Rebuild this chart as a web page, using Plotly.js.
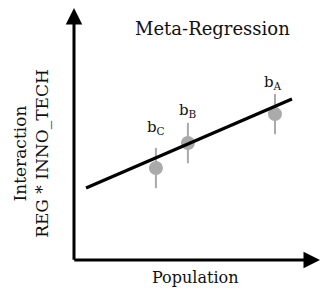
<!DOCTYPE html>
<html>
<head>
<meta charset="utf-8">
<script src="https://cdn.plot.ly/plotly-3.0.1.min.js"></script>
<style>html,body{margin:0;padding:0;background:#fff;}#chart{width:321px;height:291px;}</style>
</head>
<body>
<div id="chart"></div>
<script>
// Study estimates
var studyLabels = ["b<sub>C</sub>", "b<sub>B</sub>", "b<sub>A</sub>"];
var population = [3.33, 4.63, 8.17];
var interaction = [3.65, 4.64, 5.79];
var errHalf = [0.8, 0.8, 0.8];
// Meta-regression line endpoints
var lineX = [0.49, 8.86];
var lineY = [2.86, 6.39];

var font = "DejaVu Serif, Liberation Serif, serif";

var traces = [
  {
    x: population, y: interaction, type: "scatter", mode: "markers",
    marker: {color: "#aaaaaa", size: 14},
    error_y: {type: "data", array: errHalf, visible: true, color: "#aaaaaa", thickness: 2, width: 0},
    hoverinfo: "skip"
  },
  {
    x: lineX, y: lineY, type: "scatter", mode: "lines",
    line: {color: "#000", width: 3.2}, hoverinfo: "skip"
  }
];

var labelOffsetX = [0, 0, -0.08];
var labelOffsetY = [1.6, 1.3, 1.25];
var annotations = studyLabels.map(function (t, i) {
  return {x: population[i] + labelOffsetX[i], y: interaction[i] + labelOffsetY[i], xref: "x", yref: "y",
    xanchor: "center", yanchor: "middle",
    text: t, showarrow: false, font: {family: font, size: 15, color: "#111"}};
});

annotations.push(
  {x: 5.65, y: 9.2, xref: "x", yref: "y", xanchor: "center", yanchor: "middle", text: "Meta-Regression", showarrow: false,
   font: {family: font, size: 18, color: "#111"}},
  {x: 0.492, y: -0.071, xref: "paper", yref: "paper", xanchor: "center", yanchor: "middle", text: "Population", showarrow: false,
   font: {family: font, size: 16, color: "#111"}},
  {x: -0.175, y: 0.425, xref: "paper", yref: "paper", xanchor: "center", yanchor: "middle", text: "Interaction<br>REG * INNO_TECH",
   textangle: -90, showarrow: false, font: {family: font, size: 17, color: "#111"}},
  // axis arrows
  {x: 0, y: 10, ax: 0, ay: -0.05, xref: "x", yref: "y", axref: "x", ayref: "y", text: "",
   showarrow: true, arrowhead: 2, arrowsize: 1.1, arrowwidth: 3, arrowcolor: "#000", standoff: 0},
  {x: 10, y: 0, ax: -0.05, ay: 0, xref: "x", yref: "y", axref: "x", ayref: "y", text: "",
   showarrow: true, arrowhead: 2, arrowsize: 1.1, arrowwidth: 3, arrowcolor: "#000", standoff: 0}
);

var layout = {
  width: 321, height: 291,
  margin: {l: 74, r: 1, t: 8, b: 31},
  paper_bgcolor: "#fff", plot_bgcolor: "#fff",
  showlegend: false,
  xaxis: {range: [0, 10], showgrid: false, zeroline: false, showticklabels: false, showline: false, ticks: "", fixedrange: true},
  yaxis: {range: [0, 10], showgrid: false, zeroline: false, showticklabels: false, showline: false, ticks: "", fixedrange: true},
  annotations: annotations
};

Plotly.newPlot("chart", traces, layout, {displayModeBar: false, staticPlot: true});
</script>
</body>
</html>
